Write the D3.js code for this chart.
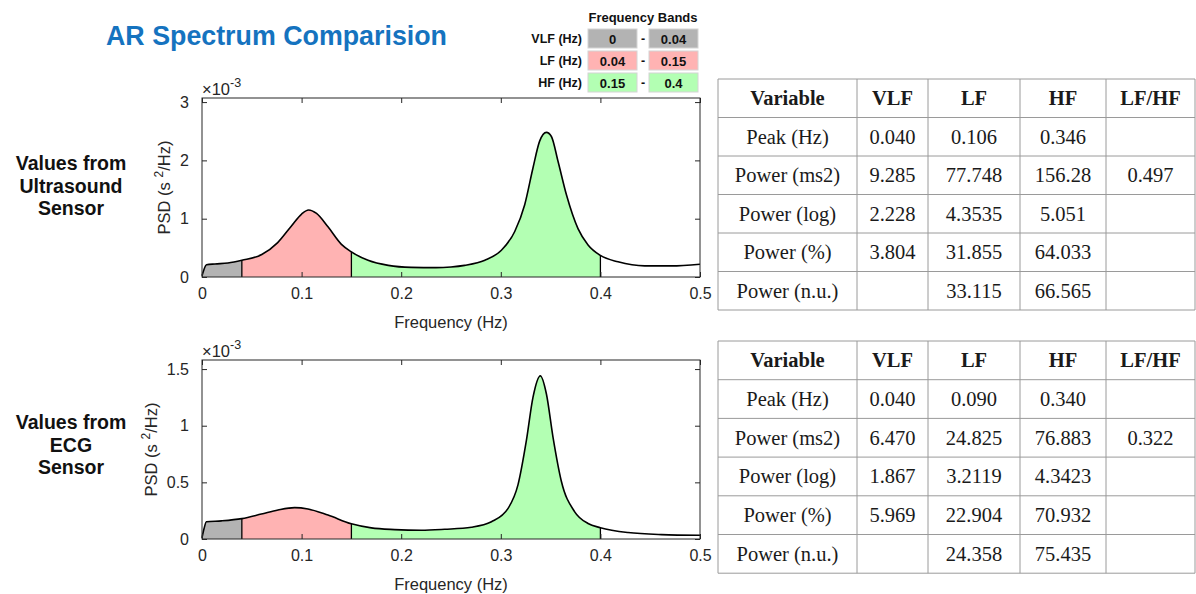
<!DOCTYPE html>
<html>
<head>
<meta charset="utf-8">
<script src="https://cdn.jsdelivr.net/npm/d3@7"></script>
<style>
  html, body { margin: 0; padding: 0; background: #fff; }
  svg { display: block; }
</style>
</head>
<body>
<svg id="chart" width="1196" height="594"></svg>
<script>
// ---- Frequency bands (Hz) ----
const bandNames = ["VLF (Hz)", "LF (Hz)", "HF (Hz)"];
const bandLow = [0, 0.04, 0.15];
const bandHigh = [0.04, 0.15, 0.4];
const bandColors = ["#b3b3b3", "#ffb3b3", "#b3ffb3"];

// ---- AR power spectral density, PSD in units of 1e-3 s^2/Hz ----
const ultraFreq = [0, 0.002, 0.0045, 0.013, 0.026, 0.04, 0.06, 0.076, 0.09, 0.1, 0.107, 0.115, 0.1265, 0.14, 0.15,
  0.1667, 0.187, 0.21, 0.235, 0.25, 0.2637, 0.284, 0.3006, 0.314, 0.324, 0.3323, 0.339, 0.3458, 0.3508, 0.3575,
  0.3659, 0.3775, 0.3876, 0.4, 0.4177, 0.4445, 0.4713, 0.5];
const ultraPsd = [0.02, 0.13, 0.21, 0.224, 0.24, 0.287, 0.385, 0.59, 0.88, 1.08, 1.15, 1.09, 0.86, 0.56, 0.43,
  0.287, 0.2, 0.165, 0.16, 0.172, 0.2, 0.287, 0.46, 0.78, 1.24, 1.87, 2.33, 2.48, 2.41, 1.98,
  1.41, 0.83, 0.55, 0.37, 0.26, 0.19, 0.19, 0.22];

const ecgFreq = [0, 0.002, 0.0044, 0.0195, 0.04, 0.0596, 0.0763, 0.093, 0.1064, 0.1265, 0.15, 0.17, 0.1935, 0.22,
  0.2437, 0.2705, 0.2906, 0.3073, 0.3173, 0.3257, 0.3323, 0.3397, 0.3458, 0.3524, 0.3608, 0.3742, 0.3876, 0.4,
  0.4277, 0.4613, 0.5];
const ecgPsd = [0.01, 0.09, 0.152, 0.16, 0.18, 0.22, 0.256, 0.277, 0.265, 0.211, 0.134, 0.098, 0.083, 0.077,
  0.086, 0.104, 0.152, 0.27, 0.48, 0.87, 1.25, 1.44, 1.28, 0.9, 0.51, 0.24, 0.137, 0.10,
  0.057, 0.039, 0.033];

// ---- Axis ticks ----
const xTicks = [0, 0.1, 0.2, 0.3, 0.4, 0.5];
const ultraYTicks = [0, 1, 2, 3];
const ecgYTicks = [0, 0.5, 1, 1.5];

// ---- HRV summary tables ----
const tableHeader = ["Variable", "VLF", "LF", "HF", "LF/HF"];
const rowLabels = ["Peak (Hz)", "Power (ms2)", "Power (log)", "Power (%)", "Power (n.u.)"];
const ultraVLF = ["0.040", "9.285", "2.228", "3.804", ""];
const ultraLF = ["0.106", "77.748", "4.3535", "31.855", "33.115"];
const ultraHF = ["0.346", "156.28", "5.051", "64.033", "66.565"];
const ultraRatio = ["", "0.497", "", "", ""];
const ecgVLF = ["0.040", "6.470", "1.867", "5.969", ""];
const ecgLF = ["0.090", "24.825", "3.2119", "22.904", "24.358"];
const ecgHF = ["0.340", "76.883", "4.3423", "70.932", "75.435"];
const ecgRatio = ["", "0.322", "", "", ""];

const svg = d3.select("#chart");
const sans = "'Liberation Sans', Arial, Helvetica, sans-serif";
const serif = "'Liberation Serif', 'Times New Roman', serif";
const axisColor = "#262626";

// ---- Title ----
svg.append("text")
  .attr("x", 106).attr("y", 45)
  .attr("font-family", sans).attr("font-weight", "bold").attr("font-size", 26.8)
  .attr("fill", "#1573bf")
  .text("AR Spectrum Comparision");

// ---- Frequency band legend ----
const legend = svg.append("g").attr("font-family", sans).attr("font-weight", "bold").attr("fill", "#111");
legend.append("text").attr("x", 643).attr("y", 21.5).attr("text-anchor", "middle")
  .attr("font-size", 13).text("Frequency Bands");
bandNames.forEach((name, i) => {
  const top = 29 + i * 22;
  legend.append("text").attr("x", 582).attr("y", top + 14).attr("text-anchor", "end")
    .attr("font-size", 12.5).text(name);
  [[588, bandLow[i]], [649, bandHigh[i]]].forEach(([bx, v]) => {
    legend.append("rect").attr("x", bx).attr("y", top).attr("width", 49).attr("height", 19)
      .attr("fill", bandColors[i]).attr("stroke", "#d4d4d4").attr("stroke-width", 1);
    legend.append("text").attr("x", bx + 24.5).attr("y", top + 14.5).attr("text-anchor", "middle")
      .attr("font-size", 13).text(String(v));
  });
  legend.append("text").attr("x", 643).attr("y", top + 14).attr("text-anchor", "middle")
    .attr("font-size", 12.5).text("-");
});

// ---- Spectrum panel ----
function drawSpectrum(opts) {
  const { freq, psd, yMax, yTicks, top, bottom, sideLines, id, ylabelX } = opts;
  const x = d3.scaleLinear().domain([0, 0.5]).range([202, 700]);
  const y = d3.scaleLinear().domain([0, yMax]).range([bottom, top]);
  const g = svg.append("g");
  const pts = freq.map((f, i) => [f, psd[i]]);

  const area = d3.area().x(d => x(d[0])).y0(y(0)).y1(d => y(d[1])).curve(d3.curveMonotoneX);
  const line = d3.line().x(d => x(d[0])).y(d => y(d[1])).curve(d3.curveMonotoneX);

  // band fills
  bandNames.forEach((_, i) => {
    const cid = `clip-${id}-${i}`;
    svg.append("clipPath").attr("id", cid).append("rect")
      .attr("x", x(bandLow[i])).attr("y", top).attr("width", x(bandHigh[i]) - x(bandLow[i]))
      .attr("height", bottom - top);
    g.append("path").datum(pts).attr("d", area).attr("fill", bandColors[i])
      .attr("clip-path", `url(#${cid})`);
  });

  // band edges
  const edges = Array.from(new Set(bandLow.concat(bandHigh))).filter(b => b > 0);
  edges.forEach(b => {
    const v = psd[freq.indexOf(b)];
    g.append("line").attr("x1", x(b)).attr("x2", x(b)).attr("y1", y(0)).attr("y2", y(v))
      .attr("stroke", "#000").attr("stroke-width", 1.3);
  });

  // spectrum curve
  g.append("path").datum(pts).attr("d", line).attr("fill", "none")
    .attr("stroke", "#000").attr("stroke-width", 1.6);

  // axes
  const fmt = d => String(d);
  const styleAxis = sel => {
    sel.select(".domain").remove();
    sel.selectAll(".tick line").attr("stroke", axisColor);
    sel.selectAll(".tick text").attr("fill", axisColor).attr("font-family", sans).attr("font-size", 16);
  };
  g.append("g").attr("transform", `translate(0,${bottom})`)
    .call(d3.axisBottom(x).tickValues(xTicks).tickFormat(fmt).tickSizeInner(-5).tickSizeOuter(0).tickPadding(11))
    .call(styleAxis);
  g.append("g").attr("transform", `translate(0,${top})`)
    .call(d3.axisTop(x).tickValues(xTicks).tickFormat("").tickSizeInner(-5).tickSizeOuter(0))
    .call(styleAxis);
  g.append("g").attr("transform", `translate(202,0)`)
    .call(d3.axisLeft(y).tickValues(yTicks).tickFormat(fmt).tickSizeInner(-5).tickSizeOuter(0).tickPadding(13))
    .call(styleAxis);
  g.append("g").attr("transform", `translate(700,0)`)
    .call(d3.axisRight(y).tickValues(yTicks).tickFormat("").tickSizeInner(-5).tickSizeOuter(0))
    .call(styleAxis);

  // frame
  g.append("rect").attr("x", 202).attr("y", top).attr("width", 498).attr("height", bottom - top)
    .attr("fill", "none").attr("stroke", axisColor).attr("stroke-width", 1);

  // exponent label
  const ex = g.append("text").attr("x", 202).attr("y", top - 3).attr("font-family", sans)
    .attr("font-size", 16.5).attr("fill", axisColor);
  ex.append("tspan").text("\u00d710");
  ex.append("tspan").attr("font-size", 12.5).attr("dy", -8).text("-3");

  // axis titles
  g.append("text").attr("x", 451).attr("y", bottom + 51).attr("text-anchor", "middle")
    .attr("font-family", sans).attr("font-size", 16.5).attr("fill", axisColor).text("Frequency (Hz)");
  const yl = g.append("text").attr("transform", `translate(${ylabelX},${(top + bottom) / 2}) rotate(-90)`)
    .attr("text-anchor", "middle").attr("font-family", sans).attr("font-size", 16.5).attr("fill", axisColor);
  yl.append("tspan").text("PSD (s ");
  yl.append("tspan").attr("font-size", 12).attr("dy", -7).text("2");
  yl.append("tspan").attr("dy", 7).text("/Hz)");

  // sensor caption
  const cap = svg.append("text").attr("text-anchor", "middle").attr("font-family", sans)
    .attr("font-weight", "bold").attr("font-size", 19.5).attr("fill", "#111");
  sideLines.forEach((t, i) => {
    cap.append("tspan").attr("x", 71).attr("y", opts.captionY + i * 22.5).text(t);
  });
}

drawSpectrum({ id: "us", freq: ultraFreq, psd: ultraPsd, yMax: 3.07, yTicks: ultraYTicks, top: 98, bottom: 277,
  sideLines: ["Values from", "Ultrasound", "Sensor"], captionY: 170, ylabelX: 170 });
drawSpectrum({ id: "ecg", freq: ecgFreq, psd: ecgPsd, yMax: 1.58, yTicks: ecgYTicks, top: 360, bottom: 539,
  sideLines: ["Values from", "ECG", "Sensor"], captionY: 429, ylabelX: 157 });

// ---- Summary table ----
function drawTable(top, rowH, vlf, lf, hf, ratio) {
  const colEdges = [718, 857, 928, 1020, 1106, 1195];
  const g = svg.append("g");
  const nRows = rowLabels.length + 1;
  const rows = [tableHeader].concat(rowLabels.map((r, i) => [r, vlf[i], lf[i], hf[i], ratio[i]]));
  for (let r = 0; r <= nRows; r++) {
    g.append("line").attr("x1", colEdges[0]).attr("x2", colEdges[colEdges.length - 1])
      .attr("y1", top + r * rowH).attr("y2", top + r * rowH).attr("stroke", "#9a9a9a").attr("stroke-width", 1);
  }
  colEdges.forEach(cx => {
    g.append("line").attr("x1", cx).attr("x2", cx).attr("y1", top).attr("y2", top + nRows * rowH)
      .attr("stroke", "#9a9a9a").attr("stroke-width", 1);
  });
  rows.forEach((row, r) => {
    row.forEach((cell, c) => {
      if (!cell) return;
      g.append("text")
        .attr("x", (colEdges[c] + colEdges[c + 1]) / 2)
        .attr("y", top + r * rowH + rowH / 2 + 7)
        .attr("text-anchor", "middle")
        .attr("font-family", serif).attr("font-size", 20.5)
        .attr("font-weight", r === 0 ? "bold" : "normal")
        .attr("fill", "#1a1a1a")
        .text(cell);
    });
  });
}

drawTable(79, 38.5, ultraVLF, ultraLF, ultraHF, ultraRatio);
drawTable(341, 38.7, ecgVLF, ecgLF, ecgHF, ecgRatio);
</script>
</body>
</html>
